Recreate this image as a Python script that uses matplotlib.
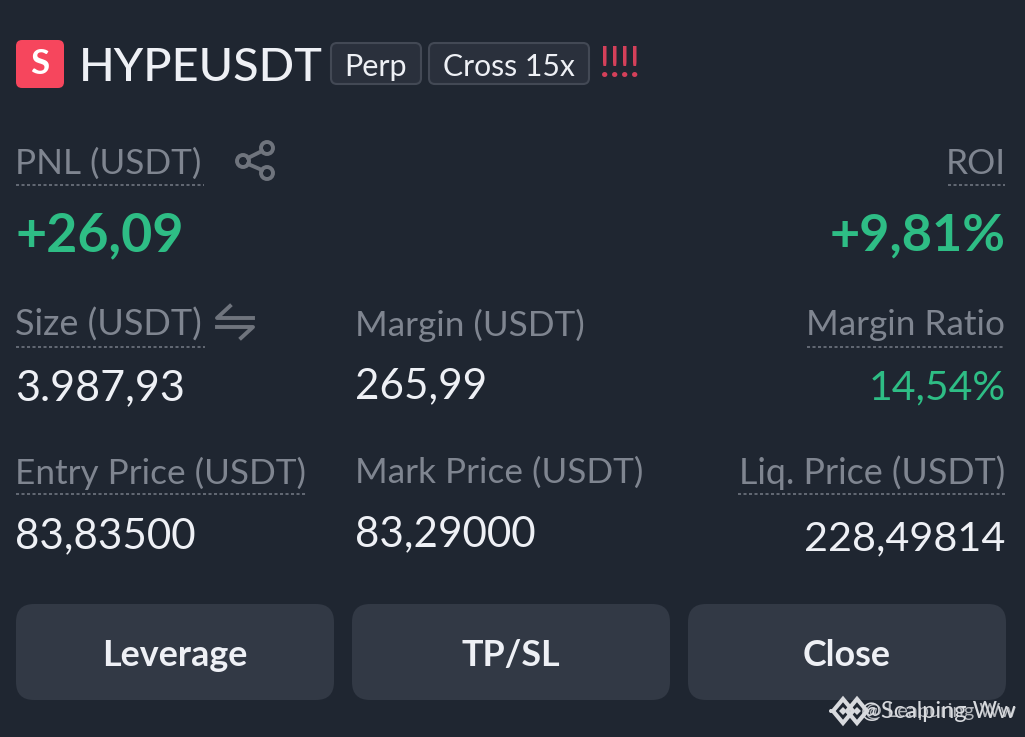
import matplotlib
matplotlib.use("Agg")
import matplotlib.pyplot as plt
from matplotlib.patches import FancyBboxPatch, Circle, Polygon

plt.rcParams['font.family'] = ['Lato', 'DejaVu Sans']

symbol = "HYPEUSDT"
tags = ["Perp", "Cross 15x"]
pnl_label = "PNL (USDT)"
roi_label = "ROI"
pnl_value = "+26,09"
roi_value = "+9,81%"
row1_labels = ["Size (USDT)", "Margin (USDT)", "Margin Ratio"]
row1_values = ["3.987,93", "265,99", "14,54%"]
row2_labels = ["Entry Price (USDT)", "Mark Price (USDT)", "Liq. Price (USDT)"]
row2_values = ["83,83500", "83,29000", "228,49814"]
buttons = ["Leverage", "TP/SL", "Close"]

BG = "#1f2631"
GREY = "#7f8590"
WHITE = "#eef0f5"
GREEN = "#2ebd85"
RED = "#f6465d"
BTN = "#323945"
TAG = "#2a303c"
ICON = "#6f747d"
LABEL_SIZE = 25.3
VALUE_SIZE = 30.3
BIG_SIZE = 38.7

fig = plt.figure(figsize=(10.25, 7.37), dpi=100, facecolor=BG)
ax = fig.add_axes([0, 0, 1, 1])
ax.set_xlim(0, 1025)
ax.set_ylim(737, 0)
ax.axis("off")


def box(x0, y0, x1, y1, r, fc, ec="none", lw=0):
    p = FancyBboxPatch((x0 + r, y0 + r), x1 - x0 - 2 * r, y1 - y0 - 2 * r,
                       boxstyle="round,pad=%d,rounding_size=%d" % (r, r),
                       fc=fc, ec=ec, lw=lw)
    ax.add_patch(p)


def dots(x0, x1, y):
    ax.plot([x0, x1], [y, y], color="#767c87", lw=1.1, ls=(0, (2, 1.6)))


# header
box(16, 40, 64, 88, 6, RED)
ax.text(40, 64, "S", color="white", fontsize=25, fontweight="bold", ha="center", va="center")
ax.text(79, 68, symbol, color=WHITE, fontsize=33.7, fontweight="medium", ha="left", va="center")
box(331, 43, 421, 84, 6, TAG, "#434955", 1.5)
ax.text(376, 67, tags[0], color=WHITE, fontsize=22, ha="center", va="center")
box(429, 43, 589, 84, 6, TAG, "#434955", 1.5)
ax.text(509, 67, tags[1], color=WHITE, fontsize=21.7, ha="center", va="center")
for x in [605, 615, 625, 635]:
    ax.text(x, 65, "!", color="#d4405a", fontsize=31, ha="center", va="center")

# pnl row
ax.text(15, 164, pnl_label, color=GREY, fontsize=LABEL_SIZE, ha="left", va="center")
dots(16, 204, 185)
for cx, cy in [(243, 161), (267, 148), (267, 173)]:
    ax.add_patch(Circle((cx, cy), 6, fc="none", ec=ICON, lw=2.8))
ax.plot([248, 262], [158, 151], color=ICON, lw=2.8)
ax.plot([248, 262], [164, 170], color=ICON, lw=2.8)
ax.text(1006, 164, roi_label, color=GREY, fontsize=LABEL_SIZE, ha="right", va="center")
dots(948, 1005, 185)
ax.text(15, 236, pnl_value, color=GREEN, fontsize=BIG_SIZE, fontweight="bold", ha="left", va="center")
ax.text(1006, 236, roi_value, color=GREEN, fontsize=37.6, fontweight="bold", ha="right", va="center")

# size / margin row
ax.text(15, 325, row1_labels[0], color=GREY, fontsize=26, ha="left", va="center")
dots(16, 205, 347)
ax.plot([230, 217, 253], [306, 318, 318], color=ICON, lw=2.8)
ax.plot([217, 253, 241], [327, 327, 338], color=ICON, lw=2.8)
ax.text(355, 325, row1_labels[1], color=GREY, fontsize=LABEL_SIZE, ha="left", va="center")
ax.text(1005, 325, row1_labels[2], color=GREY, fontsize=LABEL_SIZE, ha="right", va="center")
dots(807, 1005, 347)
ax.text(15, 388, row1_values[0], color=WHITE, fontsize=31, ha="left", va="center")
ax.text(355, 386, row1_values[1], color=WHITE, fontsize=VALUE_SIZE, ha="left", va="center")
ax.text(1006, 388, row1_values[2], color=GREEN, fontsize=29.5, ha="right", va="center")

# price row
ax.text(15, 473, row2_labels[0], color=GREY, fontsize=LABEL_SIZE, ha="left", va="center")
dots(16, 307, 494)
ax.text(355, 473, row2_labels[1], color=GREY, fontsize=LABEL_SIZE, ha="left", va="center")
ax.text(1005, 473, row2_labels[2], color=GREY, fontsize=25.8, ha="right", va="center")
dots(738, 1005, 494)
ax.text(15, 536, row2_values[0], color=WHITE, fontsize=VALUE_SIZE, ha="left", va="center")
ax.text(355, 534, row2_values[1], color=WHITE, fontsize=VALUE_SIZE, ha="left", va="center")
ax.text(1005, 539, row2_values[2], color=WHITE, fontsize=29.8, ha="right", va="center")

# buttons
for x0, label in zip([16, 352, 688], buttons):
    box(x0, 604, x0 + 318, 700, 18, BTN)
    ax.text(x0 + 159, 655, label, color=WHITE, fontsize=25.8, fontweight="bold", ha="center", va="center")

# watermark, two overlapping handles
for cx, cy in [(843, 711), (857, 711)]:
    ax.add_patch(Polygon([(cx - 10, cy), (cx, cy - 12), (cx + 10, cy), (cx, cy + 12)],
                         fc="none", ec="#d8dade", lw=3))
    ax.add_patch(Polygon([(cx - 4, cy), (cx, cy - 4), (cx + 4, cy), (cx, cy + 4)],
                         fc="#d8dade", ec="none"))
ax.add_patch(Circle((831, 711), 2, fc="#d8dade", ec="none"))
ax.text(1016, 711, "@Scalping Ww", color="#d8dade", fontsize=17, ha="right", va="center")
ax.text(1016, 711, "@ Leapuring Ww", color="#d8dade", fontsize=14.5, ha="right", va="center", alpha=0.8)

fig.savefig("out.png", dpi=100, facecolor=BG)
